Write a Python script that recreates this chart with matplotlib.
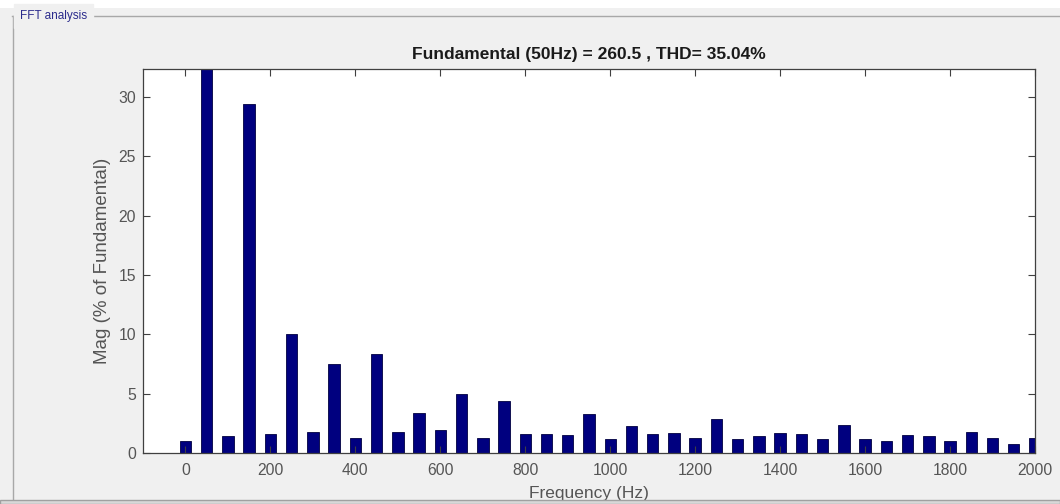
import numpy as np
import matplotlib.pyplot as plt
from matplotlib.patches import Rectangle
from matplotlib.lines import Line2D

freq = np.arange(0, 2001, 50)
mag = [1.0, 100.0, 1.47, 29.4, 1.58, 10.0, 1.8, 7.5, 1.3, 8.33,
       1.8, 3.39, 1.92, 5.0, 1.3, 4.39, 1.58, 1.58, 1.5, 3.28,
       1.17, 2.25, 1.58, 1.69, 1.28, 2.89, 1.17, 1.42, 1.69, 1.58,
       1.17, 2.33, 1.17, 0.97, 1.5, 1.42, 0.97, 1.8, 1.28, 0.78, 1.28]
title = "Fundamental (50Hz) = 260.5 , THD= 35.04%"

plt.rcParams['font.family'] = ['Liberation Sans', 'DejaVu Sans']

fig = plt.figure(figsize=(10.6, 5.04), dpi=100, facecolor='#f0f0f0')

# white strip at the top, panel frame and its label
fig.add_artist(Rectangle((0, 1 - 8/504), 1, 8/504, transform=fig.transFigure,
                         facecolor='white', edgecolor='none'))
fig.add_artist(Line2D([12/1060, 1], [1 - 16/504, 1 - 16/504], transform=fig.transFigure,
                      color='#a8a8a8', lw=1))
fig.add_artist(Line2D([12.5/1060, 12.5/1060], [1 - 16/504, 4/504], transform=fig.transFigure,
                      color='#a8a8a8', lw=1))
fig.text(20/1060, 1 - 16/504, "FFT analysis", fontsize=8.5, color='#2b2b8c',
         va='center', ha='left', backgroundcolor='#f0f0f0')

ax = fig.add_axes([143/1060, 1 - 453/504, (1035 - 143)/1060, (453 - 68.5)/504])
ax.set_facecolor('white')
ax.bar(freq, mag, width=27, color='#00007f', edgecolor='#000040', linewidth=0.6)
ax.set_xlim(-100, 2000)
ax.set_ylim(0, 32.4)
ax.set_xticks(np.arange(0, 2001, 200))
ax.set_yticks(np.arange(0, 31, 5))
ax.tick_params(direction='in', top=True, right=True, length=5, width=0.8,
               colors='#404040', labelsize=11.3, labelcolor='#555555', pad=7)
ax.tick_params(axis='y', pad=5)
for s in ax.spines.values():
    s.set_color('#404040')
    s.set_linewidth(0.9)
ax.set_title(title, fontsize=12.5, fontweight='bold', color='#1a1a1a', pad=7)
ax.set_ylabel("Mag (% of Fundamental)", fontsize=13.5, color='#555555', labelpad=5)
ax.set_xlabel("Frequency (Hz)", fontsize=12.5, color='#555555', labelpad=6)

# darker strip at the very bottom that cuts the x label
fig.add_artist(Rectangle((0, 0), 1, 4/504, transform=fig.transFigure,
                         facecolor='#d8d8d8', edgecolor='#a0a0a0', lw=1, zorder=10))

fig.savefig("out.png", dpi=100, facecolor=fig.get_facecolor())
